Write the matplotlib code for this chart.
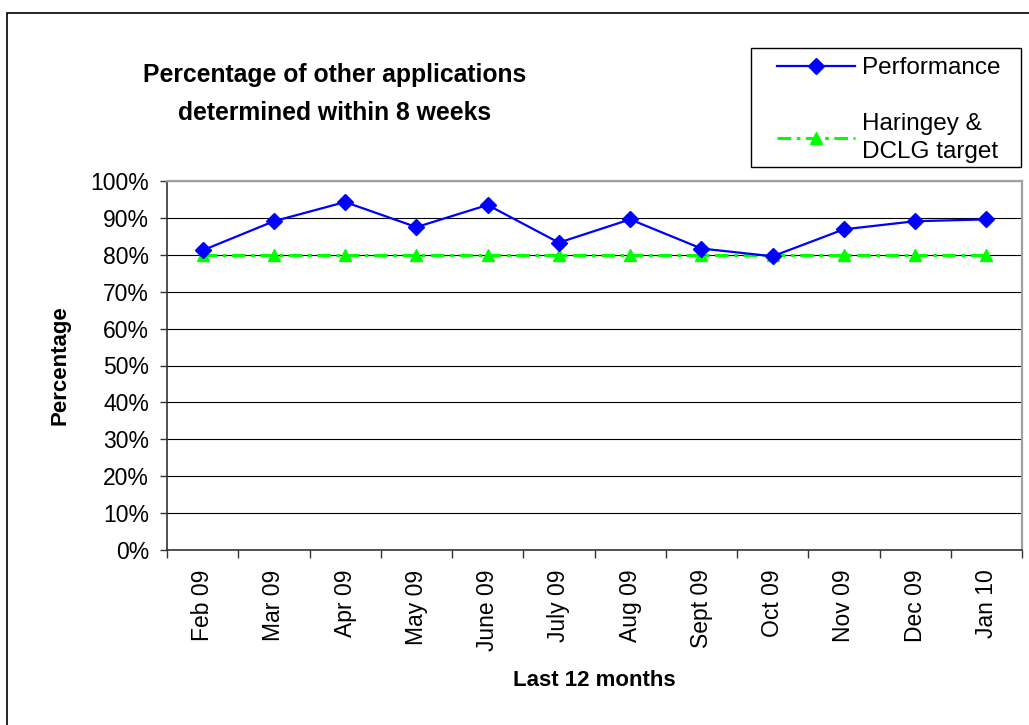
import matplotlib
matplotlib.use('Agg')
from matplotlib import pyplot as plt
from matplotlib.patches import Rectangle
from matplotlib.ticker import PercentFormatter, FixedLocator

plt.rcParams['font.family'] = ['Liberation Sans', 'DejaVu Sans']

months = ['Feb 09', 'Mar 09', 'Apr 09', 'May 09', 'June 09', 'July 09',
          'Aug 09', 'Sept 09', 'Oct 09', 'Nov 09', 'Dec 09', 'Jan 10']
performance = [81.2, 89.1, 94.3, 87.5, 93.5, 83.3, 89.6, 81.7, 79.6, 86.9, 89.1, 89.6]
target = [80, 80, 80, 80, 80, 80, 80, 80, 80, 80, 80, 80]
yticks = [0, 10, 20, 30, 40, 50, 60, 70, 80, 90, 100]

fig = plt.figure(figsize=(10.29, 7.25), dpi=100)
ax = fig.add_axes([167/1029, 1 - 550/725, 855/1029, 369/725])

x = range(len(months))
ax.plot(x, target, color='#00ff00', lw=2.2, linestyle=(0, (4.5, 1.8, 1.2, 1.8)),
        marker='^', ms=9, mec='#00ff00', label='Haringey &\nDCLG target', zorder=3)
ax.plot(x, performance, color='#0000ff', lw=1.6, marker='D', ms=8,
        label='Performance', zorder=4)

ax.set_xlim(-0.5, len(months) - 0.5)
ax.set_ylim(0, 100)
ax.set_yticks(yticks)
ax.yaxis.set_major_formatter(PercentFormatter(100, decimals=0))
ax.yaxis.grid(True, color='black', lw=0.8)

# ticks between categories, labels on the categories
ax.xaxis.set_major_locator(FixedLocator([i - 0.5 for i in range(len(months) + 1)]))
ax.xaxis.set_minor_locator(FixedLocator(list(x)))
ax.set_xticklabels([], minor=False)
ax.set_xticklabels(months, minor=True, rotation=90, fontsize=16.5)
ax.tick_params(axis='x', which='major', length=6, width=1, color='#333333', direction='out')
ax.tick_params(axis='x', which='minor', length=0, pad=14)
ax.tick_params(axis='y', length=5, width=1, color='#333333', labelsize=16.5, pad=8)

for s in ['left', 'bottom']:
    ax.spines[s].set_color('#333333')
    ax.spines[s].set_linewidth(1.2)
for s in ['top', 'right']:
    ax.spines[s].set_color('#a0a0a0')
    ax.spines[s].set_linewidth(1.6)

ax.set_xlabel('Last 12 months', fontsize=16, fontweight='bold')
ax.xaxis.set_label_coords(0.5, -0.325)
ax.set_ylabel('Percentage', fontsize=16, fontweight='bold')
ax.yaxis.set_label_coords(-0.1134, 0.5)

fig.text(335/1029, 1 - 94/725, 'Percentage of other applications\ndetermined within 8 weeks',
         ha='center', va='center', fontsize=17.8, fontweight='bold', linespacing=1.78)

handles, labels = ax.get_legend_handles_labels()
leg = fig.legend(handles[::-1], labels[::-1], loc='upper left',
                 bbox_to_anchor=(777/1029, 1 - 57/725), bbox_transform=fig.transFigure,
                 frameon=False, borderpad=0, borderaxespad=0, fontsize=17.5,
                 handlelength=3.2, handletextpad=0.3, labelspacing=1.4)
for t in leg.get_texts():
    t.set_linespacing(1.35)

# legend box and outer chart border
fig.add_artist(Rectangle((751/1029, 1 - 167/725), 270/1029, 119/725,
                         transform=fig.transFigure, fill=False, ec='black', lw=1))
fig.add_artist(Rectangle((7/1029, -0.1), 1.2, 1.1 - 13/725,
                         transform=fig.transFigure, fill=False, ec='black', lw=1.2))

fig.savefig('out.png', dpi=100)
